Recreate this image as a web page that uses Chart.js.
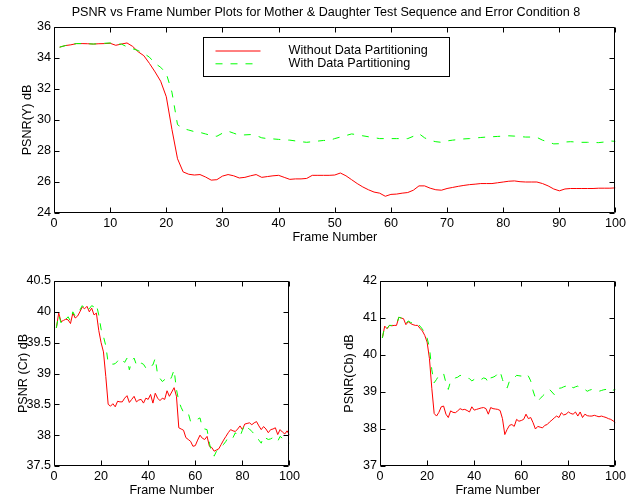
<!DOCTYPE html>
<html><head><meta charset="utf-8">
<script src="https://cdn.jsdelivr.net/npm/chart.js@4"></script>
<style>
html,body{margin:0;padding:0;background:#fff;width:629px;height:501px;overflow:hidden}
canvas{position:absolute}
#ttl{position:absolute;left:0;top:5px;width:652px;text-align:center;font:12.6px 'Liberation Sans',Arial,Helvetica,sans-serif;line-height:15px;color:#000;white-space:nowrap}
</style></head><body>
<canvas id="cY" width="629" height="245" style="left:0px;top:0px"></canvas>
<canvas id="cCr" width="303" height="232" style="left:0px;top:266px"></canvas>
<canvas id="cCb" width="299" height="232" style="left:330px;top:266px"></canvas>
<div id="ttl"></div>
<script>
const titleText = 'PSNR vs Frame Number Plots for Mother & Daughter Test Sequence and Error Condition 8';
const seriesLabels = ['Without Data Partitioning', 'With Data Partitioning'];
const frames = [1,2,3,4,5,6,7,8,9,10,11,12,13,14,15,16,17,18,19,20,21,22,23,24,25,26,27,28,29,30,31,32,33,34,35,36,37,38,39,40,41,42,43,44,45,46,47,48,49,50,51,52,53,54,55,56,57,58,59,60,61,62,63,64,65,66,67,68,69,70,71,72,73,74,75,76,77,78,79,80,81,82,83,84,85,86,87,88,89,90,91,92,93,94,95,96,97,98,99,100];

const yWithout = [34.7,34.8,34.85,34.93,34.93,34.92,34.9,34.92,34.93,34.95,34.82,34.9,34.97,34.75,34.4,34.15,33.65,33.1,32.5,31.5,
29.4,27.5,26.65,26.5,26.45,26.48,26.32,26.12,26.15,26.38,26.48,26.4,26.26,26.3,26.4,26.48,26.3,26.35,26.4,26.43,
26.3,26.17,26.2,26.2,26.23,26.43,26.43,26.43,26.43,26.45,26.58,26.4,26.15,25.9,25.68,25.5,25.35,25.28,25.08,25.2,
25.22,25.28,25.32,25.47,25.75,25.75,25.6,25.5,25.47,25.58,25.65,25.72,25.78,25.83,25.86,25.9,25.9,25.9,25.95,26.0,
26.05,26.07,26.02,26.0,26.0,26.0,25.9,25.75,25.55,25.43,25.55,25.58,25.58,25.58,25.58,25.58,25.6,25.6,25.6,25.62];
const yWith = [34.7,34.8,34.87,34.93,34.93,34.92,34.9,34.92,34.95,34.97,34.88,34.9,34.72,34.6,34.48,34.3,34.05,33.65,33.4,33.0,
31.8,29.7,29.45,29.35,29.25,29.2,29.1,29.0,28.95,29.15,29.28,29.15,29.02,29.04,29.06,29.0,28.85,28.8,28.78,28.75,
28.72,28.7,28.65,28.6,28.56,28.6,28.64,28.68,28.68,28.8,28.9,29.0,29.1,29.05,28.98,28.92,28.86,28.8,28.8,28.8,
28.8,28.8,28.8,28.95,29.12,28.85,28.68,28.6,28.56,28.65,28.7,28.74,28.78,28.8,28.84,28.87,28.9,28.92,28.94,28.96,
28.98,28.96,28.93,28.9,28.9,28.88,28.7,28.58,28.46,28.47,28.58,28.6,28.58,28.56,28.56,28.55,28.54,28.58,28.65,28.62];

const crWithout = [39.74,39.98,39.84,39.86,39.88,39.87,39.81,39.98,39.9,39.93,40.0,40.08,40.05,40.09,40.0,40.06,39.95,39.98,39.7,39.5,
39.35,38.95,38.5,38.47,38.51,38.46,38.55,38.54,38.54,38.6,38.64,38.53,38.58,38.63,38.54,38.57,38.58,38.52,38.6,38.58,
38.66,38.52,38.68,38.6,38.56,38.6,38.58,38.72,38.63,38.7,38.77,38.63,38.12,38.1,38.08,37.96,37.93,37.9,37.82,37.83,
37.92,38.0,37.95,37.93,37.98,37.82,37.8,37.74,37.76,37.78,37.85,37.92,37.98,38.04,38.09,38.07,38.06,38.1,38.15,38.09,
38.18,38.19,38.2,38.17,38.2,38.22,38.15,38.09,38.14,38.1,38.04,38.09,38.1,38.12,38.01,38.09,38.05,38.02,38.07,38.0];
const crWith = [39.74,39.95,39.82,39.9,39.88,39.92,39.85,40.0,39.93,39.98,40.03,40.1,40.06,40.1,40.05,40.1,40.08,40.12,39.95,39.72,
39.6,39.45,39.17,39.17,39.15,39.16,39.2,39.25,39.22,39.18,39.25,39.06,39.2,39.25,39.14,39.12,39.17,39.15,39.09,39.07,
39.12,39.14,39.25,38.98,38.92,38.87,38.9,38.88,38.87,38.95,39.06,38.74,38.55,38.45,38.37,38.38,38.36,38.22,38.24,38.25,
38.26,38.28,38.12,38.1,38.09,37.87,37.7,37.66,37.74,37.78,37.8,37.85,37.9,37.97,37.98,37.96,38.04,37.98,37.98,38.08,
38.17,38.12,38.1,38.06,38.02,37.98,37.92,37.87,37.98,37.95,37.93,37.94,37.96,37.92,37.9,37.98,37.95,37.93,37.9,37.87];

const cbWithout = [40.46,40.78,40.71,40.8,40.79,40.8,40.8,41.02,41.0,40.98,40.82,40.9,40.85,40.82,40.8,40.8,40.72,40.65,40.53,40.35,
39.9,39.1,38.42,38.35,38.45,38.6,38.62,38.4,38.31,38.49,38.45,38.44,38.49,38.55,38.52,38.53,38.5,38.46,38.6,38.51,
38.53,38.55,38.57,38.58,38.55,38.4,38.58,38.55,38.54,38.53,38.5,38.28,37.85,37.99,38.1,38.12,38.07,38.26,38.21,38.23,
38.26,38.4,38.28,38.31,38.17,38.0,38.07,38.05,38.03,38.1,38.12,38.19,38.24,38.3,38.35,38.31,38.44,38.38,38.4,38.46,
38.42,38.4,38.46,38.35,38.46,38.31,38.4,38.36,38.35,38.35,38.37,38.35,38.33,38.35,38.33,38.31,38.28,38.26,38.22,38.17];
const cbWith = [40.46,40.78,40.72,40.8,40.8,40.82,40.82,41.02,41.0,40.98,40.85,40.92,40.88,40.86,40.87,40.85,40.78,40.7,40.6,40.46,
40.2,39.6,39.25,39.34,39.45,39.48,39.5,39.25,39.07,39.3,39.34,39.38,39.4,39.45,39.43,39.41,39.38,39.36,39.3,39.34,
39.38,39.36,39.34,39.38,39.36,39.25,39.38,39.4,39.43,39.5,39.56,39.34,39.15,39.11,39.3,39.34,39.38,39.45,39.44,39.43,
39.5,39.47,39.43,39.3,39.03,38.84,38.75,38.82,38.89,38.95,39.0,39.07,39.0,38.93,39.07,39.1,39.11,39.14,39.16,39.18,
39.2,39.11,39.14,39.16,39.11,39.09,39.07,39.02,39.05,39.07,39.05,39.03,39.02,39.04,39.06,39.07,39.03,39.0,39.05,39.07];

const topXTicks = [0,10,20,30,40,50,60,70,80,90,100];
const bottomXTicks = [0,20,40,60,80,100];
const yTicks = [24,26,28,30,32,34,36];
const crTicks = [37.5,38,38.5,39,39.5,40,40.5];
const cbTicks = [37,38,39,40,41,42];

document.getElementById('ttl').textContent = titleText;

const FONT = "'Liberation Sans', Arial, Helvetica, sans-serif";
const FSIZE = 12.6;
Chart.defaults.font.family = FONT;
Chart.defaults.font.size = FSIZE;
Chart.defaults.color = '#000';

const boxPlugin = {
  id: 'matBox',
  afterDatasetsDraw(chart) {
    const {ctx, chartArea: a, scales: {x, y}} = chart;
    ctx.save();
    ctx.strokeStyle = '#000';
    ctx.lineWidth = 1;
    ctx.setLineDash([]);
    ctx.beginPath();
    const L = Math.round(a.left) + 0.5, R = Math.round(a.right) - 0.5;
    const T = Math.round(a.top) + 0.5, B = Math.round(a.bottom) - 0.5;
    x.ticks.forEach(t => {
      const px = Math.round(x.getPixelForValue(t.value)) + 0.5;
      ctx.moveTo(px, B); ctx.lineTo(px, B - 5);
      ctx.moveTo(px, T); ctx.lineTo(px, T + 5);
    });
    y.ticks.forEach(t => {
      const py = Math.round(y.getPixelForValue(t.value)) + 0.5;
      ctx.moveTo(L, py); ctx.lineTo(L + 5, py);
      ctx.moveTo(R, py); ctx.lineTo(R - 5, py);
    });
    ctx.rect(L, T, R - L, B - T);
    ctx.stroke();
    ctx.restore();
  }
};

const legendPlugin = {
  id: 'matLegend',
  afterDraw(chart, args, o) {
    if (!o || !o.show) return;
    const {ctx, chartArea: a} = chart;
    const x0 = Math.round(a.left + o.dx) + 0.5, y0 = Math.round(a.top + o.dy) + 0.5;
    ctx.save();
    ctx.fillStyle = '#fff';
    ctx.fillRect(x0, y0, o.w, o.h);
    ctx.strokeStyle = '#000';
    ctx.lineWidth = 1;
    ctx.strokeRect(x0, y0, o.w, o.h);
    chart.data.datasets.forEach((ds, i) => {
      const yy = y0 + o.row0 + i * o.rowH;
      ctx.strokeStyle = ds.borderColor;
      ctx.lineWidth = ds.borderWidth;
      ctx.setLineDash(ds.borderDash || []);
      ctx.beginPath();
      ctx.moveTo(x0 + o.lineX0, yy);
      ctx.lineTo(x0 + o.lineX1, yy);
      ctx.stroke();
      ctx.setLineDash([]);
      ctx.fillStyle = '#000';
      ctx.font = FSIZE + 'px ' + FONT;
      ctx.textAlign = 'left';
      ctx.textBaseline = 'middle';
      ctx.fillText(ds.label, x0 + o.textX, yy);
    });
    ctx.restore();
  }
};

function makeChart(id, o) {
  const pts = arr => frames.map((f, i) => ({x: f, y: arr[i]}));
  return new Chart(document.getElementById(id), {
    type: 'line',
    data: {
      datasets: [
        {label: seriesLabels[0], data: pts(o.a), borderColor: '#ff0000', borderWidth: 1, pointRadius: 0, tension: 0, fill: false, order: 1},
        {label: seriesLabels[1], data: pts(o.b), borderColor: '#00ff00', borderWidth: 1, borderDash: [7, 8], pointRadius: 0, tension: 0, fill: false, order: 0}
      ]
    },
    options: {
      responsive: false, animation: false, devicePixelRatio: 1,
      layout: {padding: o.pad},
      plugins: {
        legend: {display: false},
        tooltip: {enabled: false},
        title: {display: false},
        matLegend: o.legend || {show: false}
      },
      scales: {
        x: {
          type: 'linear', min: 0, max: 100,
          grid: {display: false, drawTicks: false}, border: {display: false},
          afterBuildTicks: s => { s.ticks = o.xt.map(v => ({value: v})); },
          afterFit: s => { s.height = o.xh; },
          ticks: {padding: 3, maxRotation: 0, autoSkip: false, callback: v => String(v)},
          title: {display: true, text: 'Frame Number', padding: {top: 0, bottom: 0}}
        },
        y: {
          type: 'linear', min: o.yt[0], max: o.yt[o.yt.length - 1],
          grid: {display: false, drawTicks: false}, border: {display: false},
          afterBuildTicks: s => { s.ticks = o.yt.map(v => ({value: v})); },
          afterFit: s => { s.width = o.yw; },
          ticks: {padding: 3, autoSkip: false, callback: v => String(v)},
          title: {display: true, text: o.ytitle, padding: {top: o.ytp, bottom: 0}}
        }
      }
    },
    plugins: [boxPlugin, legendPlugin]
  });
}

makeChart('cY', {a: yWithout, b: yWith, xt: topXTicks, yt: yTicks, ytitle: 'PSNR(Y) dB',
  pad: {top: 27, right: 12, bottom: 0, left: 0}, xh: 32, yw: 54, ytp: 20,
  legend: {show: true, dx: 149, dy: 10, w: 246, h: 39, row0: 13.5, rowH: 12.8, lineX0: 12, lineX1: 57, textX: 85}});
makeChart('cCr', {a: crWithout, b: crWith, xt: bottomXTicks, yt: crTicks, ytitle: 'PSNR (Cr) dB',
  pad: {top: 15, right: 11, bottom: 0, left: 0}, xh: 32, yw: 54, ytp: 16});
makeChart('cCb', {a: cbWithout, b: cbWith, xt: bottomXTicks, yt: cbTicks, ytitle: 'PSNR(Cb) dB',
  pad: {top: 15, right: 12, bottom: 0, left: 0}, xh: 32, yw: 50, ytp: 12});
</script>
</body></html>
